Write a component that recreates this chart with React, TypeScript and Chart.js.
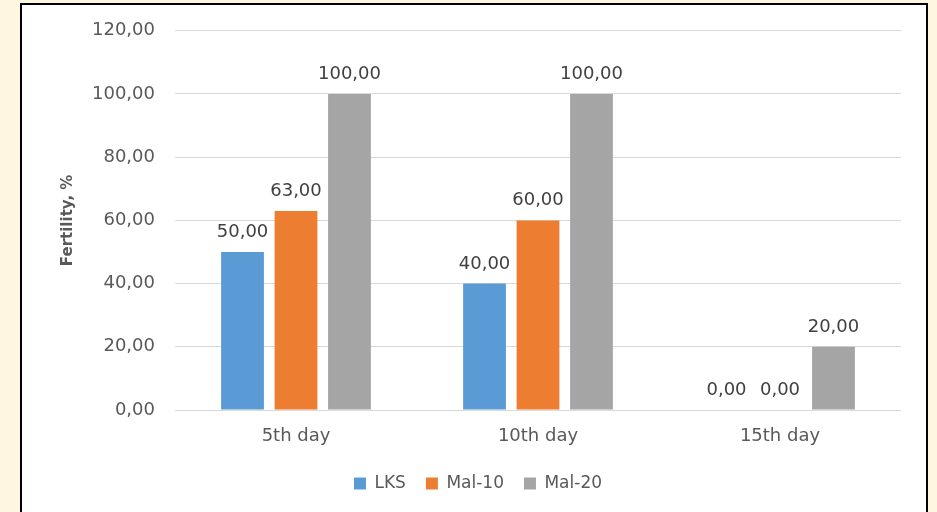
import React, { useEffect, useRef } from "react";
import { Chart, registerables } from "chart.js";

Chart.register(...registerables);

const categories = ["5th day", "10th day", "15th day"];
const seriesNames = ["LKS", "Mal-10", "Mal-20"];
const lksValues = [50, 40, 0];
const mal10Values = [63, 60, 0];
const mal20Values = [100, 100, 20];
const seriesColors = ["#5B9BD5", "#ED7D31", "#A5A5A5"];
const yMin = 0;
const yMax = 120;
const yStep = 20;
const yTitle = "Fertility, %";

const FONT = "'DejaVu Sans', sans-serif";
const fmt = (v: number) => v.toFixed(2).replace(".", ",");

const valueLabels = {
  id: "valueLabels",
  afterDatasetsDraw(chart: any) {
    const ctx = chart.ctx;
    ctx.save();
    ctx.font = `18px ${FONT}`;
    ctx.fillStyle = "#404040";
    ctx.textAlign = "center";
    ctx.textBaseline = "alphabetic";
    chart.data.datasets.forEach((ds: any, i: number) => {
      const meta = chart.getDatasetMeta(i);
      meta.data.forEach((bar: any, j: number) => {
        ctx.fillText(fmt(ds.data[j]), bar.x, bar.y - 15);
      });
    });
    ctx.restore();
  },
};

export default function App() {
  const ref = useRef<HTMLCanvasElement>(null);
  useEffect(() => {
    if (!ref.current) return;
    const seriesData = [lksValues, mal10Values, mal20Values];
    const chart = new Chart(ref.current, {
      type: "bar",
      data: {
        labels: categories,
        datasets: seriesNames.map((name, i) => ({
          label: name,
          data: seriesData[i],
          backgroundColor: seriesColors[i],
          borderWidth: 0,
          categoryPercentage: 0.663,
          barPercentage: 0.8,
        })),
      },
      options: {
        responsive: false,
        animation: false,
        layout: { padding: { left: 55, right: 36, top: 26, bottom: 10 } },
        plugins: {
          tooltip: { enabled: false },
          legend: {
            position: "bottom",
            labels: {
              boxWidth: 12,
              boxHeight: 12,
              padding: 20,
              color: "#595959",
              font: { family: FONT, size: 17 },
            },
          },
        },
        scales: {
          x: {
            grid: { display: false },
            border: { display: false },
            ticks: { color: "#595959", font: { family: FONT, size: 18 }, padding: 8 },
            afterFit: (s: any) => { s.height = 45; },
          },
          y: {
            min: yMin,
            max: yMax,
            grid: { color: "#D9D9D9", drawTicks: false },
            border: { display: false },
            ticks: {
              stepSize: yStep,
              padding: 20,
              color: "#595959",
              font: { family: FONT, size: 18 },
              callback: (v: any) => fmt(Number(v)),
            },
            title: {
              display: true,
              text: yTitle,
              color: "#595959",
              font: { family: FONT, size: 15, weight: "bold" },
            },
            afterFit: (s: any) => { s.width = 120; },
          },
        },
      },
      plugins: [valueLabels],
    });
    return () => chart.destroy();
  }, []);

  return (
    <div style={{ position: "fixed", left: 0, top: 0, width: 937, height: 512, background: "#FFF6E2", overflow: "hidden" }}>
      <div style={{ position: "absolute", left: 20, top: 3, width: 904, height: 530, border: "2px solid #000", background: "#fff" }} />
      <canvas ref={ref} width={937} height={512} style={{ position: "absolute", left: 0, top: 0, width: 937, height: 512 }} />
    </div>
  );
}
